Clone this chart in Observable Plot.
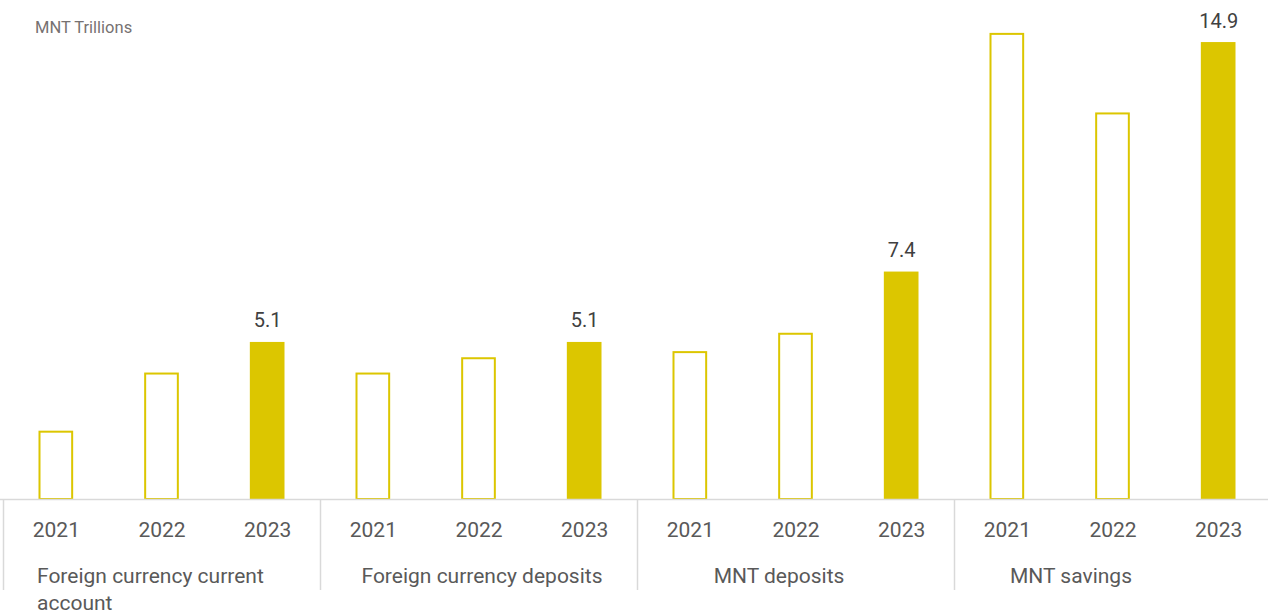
<!DOCTYPE html>
<html>
<head>
<meta charset="utf-8">
<script src="https://cdn.jsdelivr.net/npm/d3@7"></script>
<script src="https://cdn.jsdelivr.net/npm/@observablehq/plot@0.6"></script>
<style>
  html, body { margin: 0; padding: 0; background: #ffffff; overflow: hidden; }
  #chart { position: relative; width: 1268px; height: 616px; overflow: hidden; }
  #unit { position: absolute; left: 35px; top: 18px; font: 16.5px Roboto, sans-serif; color: #767171; }
</style>
</head>
<body>
<div id="chart"><div id="unit"></div></div>
<script>
const unitLabel = "MNT Trillions";
const categories = ["Foreign currency current account", "Foreign currency deposits", "MNT deposits", "MNT savings"];
const years = ["2021", "2022", "2023"];
const fcCurrentAccount = [2.2, 4.1, 5.1];
const fcDeposits = [4.1, 4.6, 5.1];
const mntDeposits = [4.8, 5.4, 7.4];
const mntSavings = [15.2, 12.6, 14.9];
const highlightYear = "2023";

const seriesByCategory = [fcCurrentAccount, fcDeposits, mntDeposits, mntSavings];
const rows = [];
categories.forEach((c, i) => years.forEach((y, j) => rows.push({
  category: c, year: y, key: c + "|" + y, value: seriesByCategory[i][j], highlight: y === highlightYear
})));
const keys = rows.map(d => d.key);
const firstOfGroup = rows.filter(d => d.year === years[0]);
const midOfGroup = rows.filter(d => d.year === years[1]);

const gold = "#dcc600";
const W = 1268, H = 616;
const xRange = [3, 1271];
const bw = (xRange[1] - xRange[0]) / keys.length;
const pxPerUnit = 30.6;
const baseline = 499;

document.getElementById("unit").textContent = unitLabel;

const textStyle = {fontSize: 21, fill: "#595959"};
const plot = Plot.plot({
  width: W, height: H,
  marginTop: 0, marginBottom: H - baseline, marginLeft: 0, marginRight: 0,
  style: {fontFamily: "Roboto, sans-serif", background: "transparent", overflow: "visible", maxWidth: "none"},
  x: {domain: keys, range: xRange, padding: 0, round: false, axis: null},
  y: {domain: [0, baseline / pxPerUnit], axis: null},
  marks: [
    Plot.barY(rows, {
      x: "key", y: "value", insetLeft: 36.5, insetRight: 36.5,
      fill: d => d.highlight ? gold : "white",
      stroke: gold, strokeWidth: 2
    }),
    Plot.ruleY([0], {stroke: "#d9d9d9", strokeWidth: 1.5}),
    Plot.ruleX(firstOfGroup, {x: "key", y1: 0, y2: -91 / pxPerUnit, dx: -bw / 2, stroke: "#d9d9d9", strokeWidth: 1.5}),
    Plot.text(rows, {x: "key", y: 0, text: "year", dy: 31, lineAnchor: "middle", ...textStyle}),
    Plot.text(rows.filter(d => d.highlight), {
      x: "key", y: "value", text: d => d.value.toFixed(1), dy: -16, lineAnchor: "bottom", fontSize: 20, fill: "#404040"
    }),
    Plot.text(midOfGroup.filter(d => d.category === categories[0]), {
      x: "key", y: 0, text: "category", dy: 64, dx: -125, textAnchor: "start", lineAnchor: "top", lineWidth: 13, lineHeight: 1.3, ...textStyle
    }),
    Plot.text(midOfGroup.filter(d => d.category === categories[1]), {
      x: "key", y: 0, text: "category", dy: 69, dx: 3, lineAnchor: "top", ...textStyle
    }),
    Plot.text(midOfGroup.filter(d => d.category === categories[2]), {
      x: "key", y: 0, text: "category", dy: 69, dx: -17, lineAnchor: "top", ...textStyle
    }),
    Plot.text(midOfGroup.filter(d => d.category === categories[3]), {
      x: "key", y: 0, text: "category", dy: 69, dx: -42, lineAnchor: "top", ...textStyle
    })
  ]
});
document.getElementById("chart").appendChild(plot);
plot.style.position = "absolute";
plot.style.left = "0";
plot.style.top = "0";
</script>
</body>
</html>
